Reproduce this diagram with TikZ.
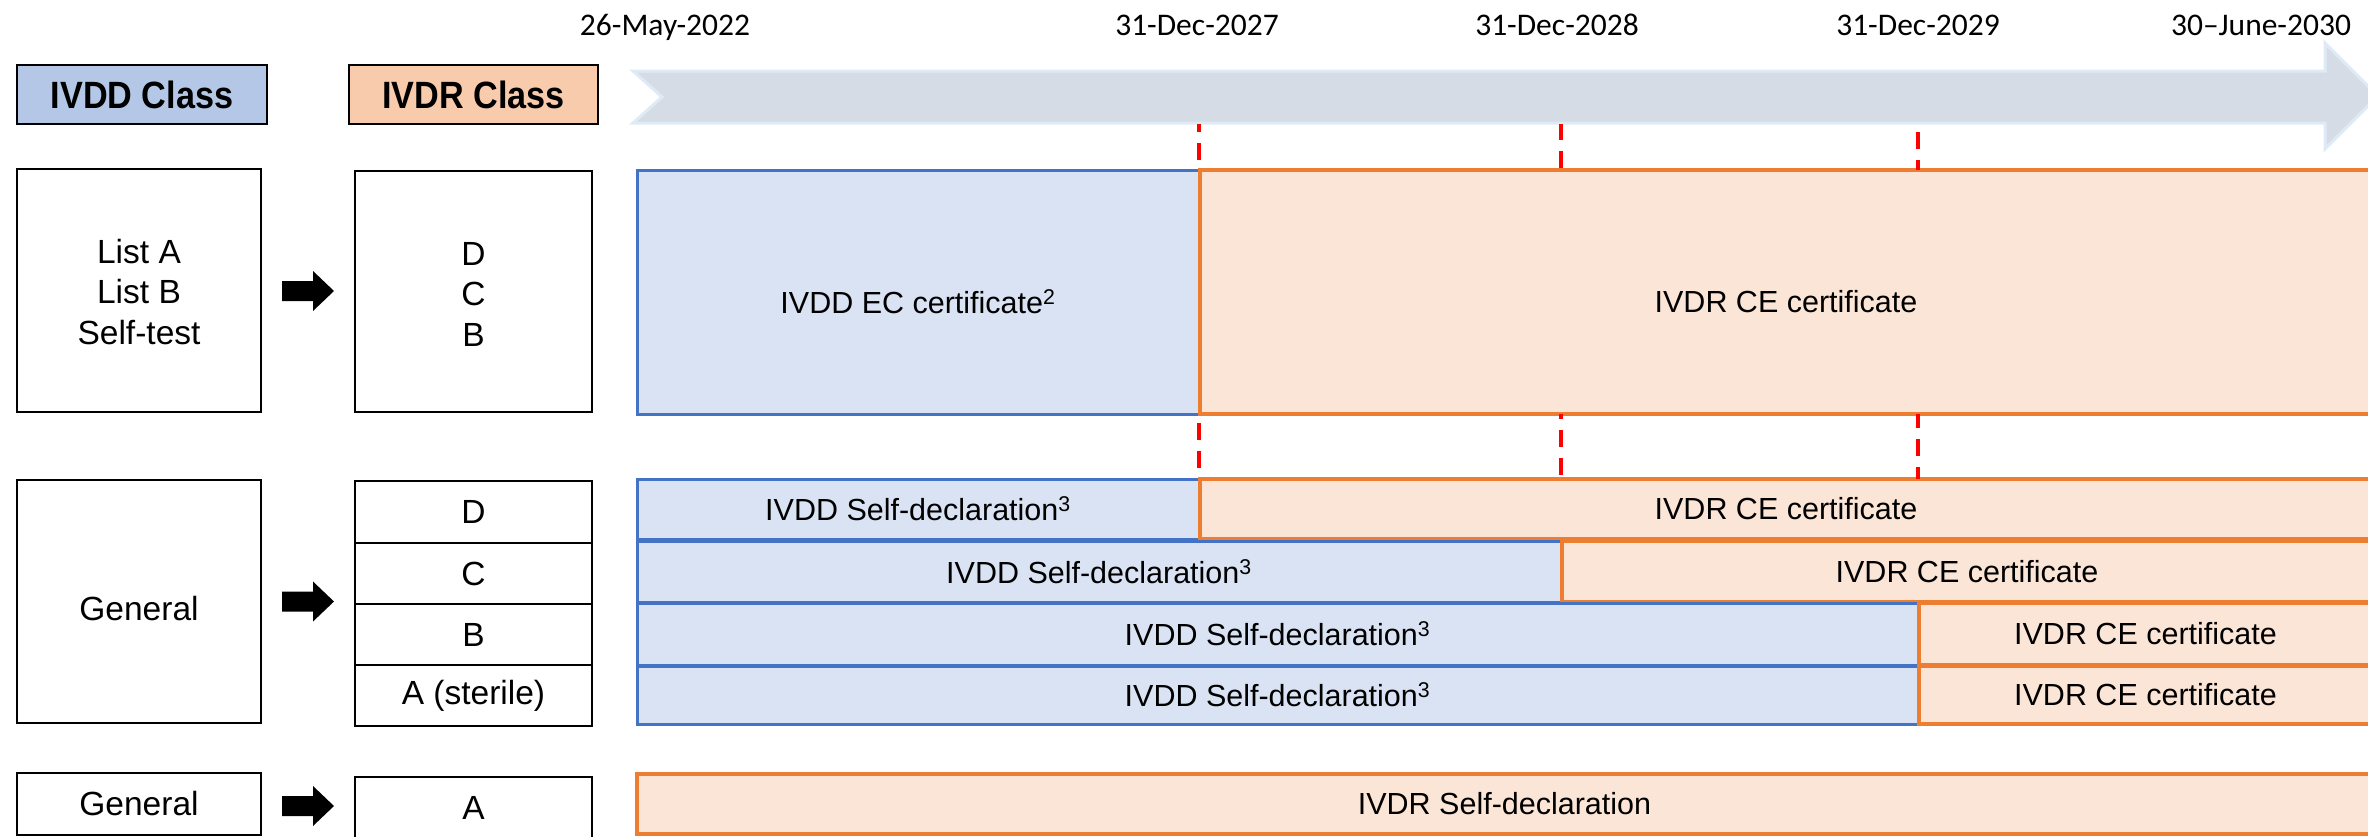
\documentclass[tikz,border=0pt]{standalone}
\usepackage{fontspec}
\setmainfont{Liberation Sans}
\newfontfamily\datefamily{Carlito}
\newfontfamily\hdrfamily[FakeStretch=0.9]{Liberation Sans}

\definecolor{ivddhdr}{HTML}{B4C7E7}
\definecolor{ivdrhdr}{HTML}{F8CBAD}
\definecolor{ivddfill}{HTML}{DAE3F3}
\definecolor{ivddline}{HTML}{4472C4}
\definecolor{ivdrfill}{HTML}{FBE5D6}
\definecolor{ivdrline}{HTML}{ED7D31}
\definecolor{tlfill}{HTML}{D6DCE5}
\definecolor{tlline}{HTML}{DEEBF7}
\definecolor{deadred}{HTML}{FF0000}

\tikzset{
  boxbase/.style={inner sep=0pt, outer sep=0pt, anchor=north west, align=center},
  hdr/.style={boxbase, draw=black, line width=2.5pt,
    font=\hdrfamily\bfseries\fontsize{38}{42}\selectfont},
  cls/.style={boxbase, draw=black, line width=2.5pt, fill=white,
    font=\fontsize{33.5}{40.5}\selectfont},
  oldbar/.style={boxbase, draw=ivddline, fill=ivddfill, line width=3pt,
    font=\fontsize{30.5}{36}\selectfont},
  newbar/.style={boxbase, draw=ivdrline, fill=ivdrfill, line width=3.5pt,
    font=\fontsize{30.5}{36}\selectfont},
  datelbl/.style={inner sep=0pt, anchor=base, font=\datefamily\fontsize{31.5}{36}\selectfont},
  deadline/.style={draw=deadred, line width=4pt, dash pattern=on 17pt off 11pt},
  blockfill/.style={fill=black},
  timeline/.style={fill=tlfill, draw=tlline, line width=3pt}
}

% thick black block arrow centred on a named coordinate
\newcommand\blockarrowat[1]{%
  \fill[blockfill] (#1) ++(-26,-10) -- ++(31,0) -- ++(0,-10) -- ++(21,20)
    -- ++(-21,20) -- ++(0,-10) -- ++(-31,0) -- cycle;}
% set a label a little below the middle of its box
\newcommand\dropby[2]{\raisebox{-#1}[\height][\depth]{#2}}
\newcommand\stacklines[1]{\begin{tabular}{@{}c@{}}#1\end{tabular}}

\begin{document}
\begin{tikzpicture}[x=1pt, y=-1pt]
\useasboundingbox (0,0) rectangle (2368,836);
\clip (0,0) rectangle (2368,836);

% timeline band
\filldraw[timeline] (633,71) -- (2325,71) -- (2325,43) -- (2378,96)
  -- (2325,149) -- (2325,123) -- (633,123) -- (662,97) -- cycle;
\coordinate (tlb) at (0,124);

% dates
\node[datelbl] (d2022) at (665,35.5) {26-May-2022};
\node[datelbl] (d2027) at (1197,35.5) {31-Dec-2027};
\node[datelbl] (d2028) at (1557,35.5) {31-Dec-2028};
\node[datelbl] (d2029) at (1918,35.5) {31-Dec-2029};
\node[datelbl] (d2030) at (2261,35.5) {30–June-2030};

% column headers
\node[hdr, fill=ivddhdr, minimum width=250pt, minimum height=59pt] (ivdd) at (17,65) {IVDD Class};
\node[hdr, fill=ivdrhdr, minimum width=249pt, minimum height=59pt] (ivdr) at (349,65) {IVDR Class};

% classes, first group
\node[cls, minimum width=244pt, minimum height=243pt] (r1l) at (17,169)
  {\dropby{5pt}{\stacklines{List A\\List B\\Self-test}}};
\node[cls, minimum width=237pt, minimum height=241pt] (r1r) at (355,171)
  {\dropby{6pt}{\stacklines{D\\C\\B}}};

% classes, second group
\node[cls, minimum width=244pt, minimum height=243pt] (r2l) at (17,480) {\dropby{7pt}{General}};
\node[cls, minimum width=237pt, minimum height=62pt] (cD) at (355,481) {D};
\node[cls, minimum width=237pt, minimum height=61pt] (cC) at (355,543) {C};
\node[cls, minimum width=237pt, minimum height=61pt] (cB) at (355,604) {B};
\node[cls, minimum width=237pt, minimum height=61pt] (cA) at (355,665) {A (sterile)};

% classes, third group
\node[cls, minimum width=244pt, minimum height=62pt] (r3l) at (17,773) {General};
\node[cls, minimum width=237pt, minimum height=62pt] (r3r) at (355,777) {A};

% class mapping arrows
\path (r1l.east) -- (r1r.west) coordinate[midway] (m1);
\path (r2l.east) -- (r2l.east -| cD.west) coordinate[midway] (m2);
\path (r3l.east) -- (r3r.west) coordinate[midway] (m3);
\blockarrowat{m1}
\blockarrowat{m2}
\blockarrowat{m3}

% transition bars
\node[oldbar, minimum width=562pt, minimum height=244pt] (r1old) at (637,170)
  {\dropby{10pt}{IVDD EC certificate\textsuperscript{2}}};
\node[newbar, minimum width=1172pt, minimum height=244pt] (r1new) at (1200,170)
  {\dropby{10pt}{IVDR CE certificate}};

\node[oldbar, minimum width=562pt, minimum height=60pt] (dold) at (637,479) {IVDD Self-declaration\textsuperscript{3}};
\node[newbar, minimum width=1172pt, minimum height=60pt] (dnew) at (1200,479) {IVDR CE certificate};

\node[oldbar, minimum width=924pt, minimum height=61pt] (cold) at (637,541) {IVDD Self-declaration\textsuperscript{3}};
\node[newbar, minimum width=810pt, minimum height=61pt] (cnew) at (1562,541) {IVDR CE certificate};

\node[oldbar, minimum width=1281pt, minimum height=62pt] (bold) at (637,603) {IVDD Self-declaration\textsuperscript{3}};
\node[newbar, minimum width=453pt, minimum height=62pt] (bnew) at (1919,603) {IVDR CE certificate};

\node[oldbar, minimum width=1281pt, minimum height=58pt] (aold) at (637,666) {IVDD Self-declaration\textsuperscript{3}};
\node[newbar, minimum width=453pt, minimum height=58pt] (anew) at (1919,666) {IVDR CE certificate};

\node[newbar, minimum width=1735pt, minimum height=60pt] (r3new) at (637,774) {IVDR Self-declaration};

% deadline markers
\draw[deadline, dash phase=9pt]  (r1old.north east |- tlb) -- (r1old.north east);
\draw[deadline, dash phase=1pt]  (cold.north east |- tlb) -- (cold.north east |- r1new.north);
\draw[deadline, dash phase=20pt] (bold.north east |- tlb) -- (bold.north east |- r1new.north);
\draw[deadline, dash phase=19pt] (r1old.south east) -- (dold.north east);
\draw[deadline, dash phase=12pt] (cold.north east |- r1new.south) -- (cold.north east |- dnew.north);
\draw[deadline, dash phase=3pt]  (bold.north east |- r1new.south) -- (bold.north east |- dnew.north);
\end{tikzpicture}
\end{document}
